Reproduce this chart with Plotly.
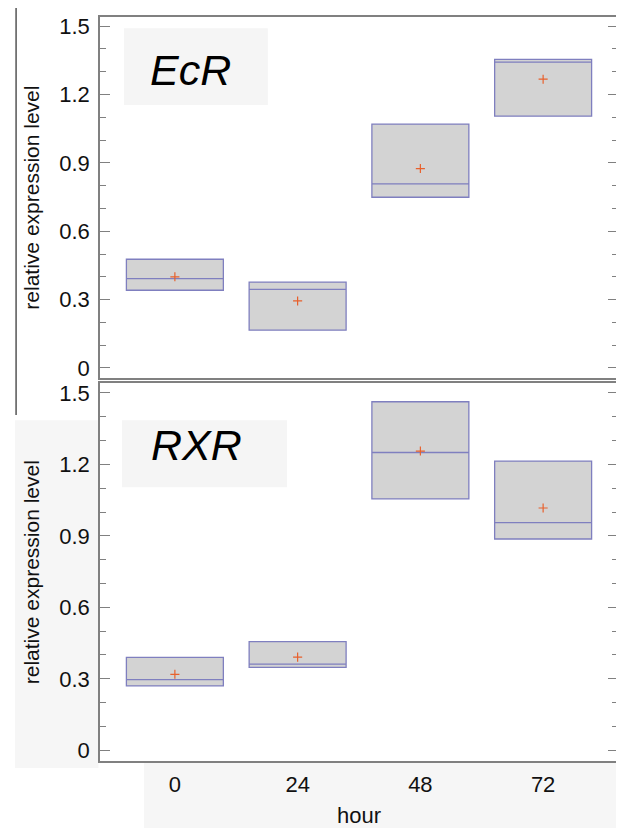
import plotly.graph_objects as go

hours = ["0", "24", "48", "72"]

ecr_q1 = [0.341, 0.166, 0.749, 1.105]
ecr_median = [0.392, 0.345, 0.808, 1.342]
ecr_q3 = [0.477, 0.377, 1.070, 1.354]
ecr_mean = [0.400, 0.294, 0.875, 1.267]

rxr_q1 = [0.270, 0.348, 1.055, 0.887]
rxr_median = [0.297, 0.362, 1.250, 0.956]
rxr_q3 = [0.390, 0.456, 1.463, 1.214]
rxr_mean = [0.319, 0.391, 1.256, 1.017]

y_ticks = [0, 0.3, 0.6, 0.9, 1.2, 1.5]
y_tick_labels = ["0", "0.3", "0.6", "0.9", "1.2", "1.5"]

FONT = "Liberation Sans, Arial, sans-serif"
BOX_LINE = "#7f7fbf"
BOX_FILL = "#d3d3d3"
MEAN_COL = "#e8602c"
AXIS_COL = "#808080"
TXT = "#111111"
SCAN_BG = "#f6f6f6"

fig = go.Figure()
pos = list(range(len(hours)))

def add_panel(q1, med, q3, mean, xa, ya):
    fig.add_trace(go.Box(
        x=pos, q1=q1, median=med, q3=q3, lowerfence=q1, upperfence=q3,
        width=0.79, whiskerwidth=0, fillcolor=BOX_FILL,
        line=dict(color=BOX_LINE, width=1.3), boxpoints=False,
        xaxis=xa, yaxis=ya, showlegend=False, hoverinfo="skip"))
    fig.add_trace(go.Scatter(
        x=pos, y=mean, mode="markers",
        marker=dict(symbol="cross-thin", size=6.5, line=dict(color=MEAN_COL, width=1.2)),
        xaxis=xa, yaxis=ya, showlegend=False, hoverinfo="skip"))

add_panel(ecr_q1, ecr_median, ecr_q3, ecr_mean, "x", "y")
add_panel(rxr_q1, rxr_median, rxr_q3, rxr_mean, "x2", "y2")

yaxis_common = dict(
    range=[-0.045, 1.54], tickvals=y_ticks, ticktext=y_tick_labels,
    ticks="inside", ticklen=10, tickwidth=1.2, tickcolor=AXIS_COL,
    minor=dict(dtick=0.1, ticks="inside", ticklen=6, tickwidth=1.2, tickcolor=AXIS_COL),
    showline=True, linecolor=AXIS_COL, linewidth=1.5, mirror="allticks",
    showgrid=False, zeroline=False, ticklabelstandoff=4, automargin=False,
    tickfont=dict(family=FONT, size=22, color=TXT),
    title=dict(text="relative expression level", font=dict(family=FONT, size=21, color=TXT), standoff=14),
)
xaxis_common = dict(
    range=[-0.61, 3.61], tickvals=pos, ticktext=hours, ticks="",
    showline=True, linecolor=AXIS_COL, linewidth=1.5, mirror=True,
    showgrid=False, zeroline=False, automargin=False,
    tickfont=dict(family=FONT, size=22, color=TXT),
)

# page body adds an 8px offset; figure sized so the plot area lands at x 100-618, y 17-761
fig.update_layout(
    width=616, height=820,
    margin=dict(l=92, r=6, t=9, b=67),
    paper_bgcolor="white", plot_bgcolor="white",
    xaxis=dict(xaxis_common, domain=[0, 1], anchor="y", showticklabels=False),
    yaxis=dict(yaxis_common, domain=[0.5145, 1.0], anchor="x"),
    xaxis2=dict(xaxis_common, domain=[0, 1], anchor="y2", ticklabelstandoff=3,
                title=dict(text="hour", font=dict(family=FONT, size=22, color=TXT), standoff=14)),
    yaxis2=dict(yaxis_common, domain=[0.0, 0.5075], anchor="x2"),
)

# faint scanned background areas
fig.add_shape(type="rect", xref="paper", yref="paper", x0=-0.164, x1=-0.003, y0=-0.0094, y1=0.458,
              fillcolor=SCAN_BG, line=dict(width=0), layer="below")
fig.add_shape(type="rect", xref="paper", yref="paper", x0=0.085, x1=1.012, y0=-0.095, y1=-0.002,
              fillcolor=SCAN_BG, line=dict(width=0), layer="below")

# gene label panels
fig.add_shape(type="rect", xref="paper", yref="paper", x0=0.0463, x1=0.324, y0=0.8817, y1=0.985,
              fillcolor="#f5f5f5", line=dict(width=0), layer="below")
fig.add_shape(type="rect", xref="paper", yref="paper", x0=0.0425, x1=0.361, y0=0.3679, y1=0.4580,
              fillcolor="#f5f5f5", line=dict(width=0), layer="below")
fig.add_annotation(text="<i>EcR</i>", xref="paper", yref="paper", x=0.174, y=0.929,
                   xanchor="center", yanchor="middle",
                   showarrow=False, font=dict(family=FONT, size=43, color="black"))
fig.add_annotation(text="<i>RXR</i>", xref="paper", yref="paper", x=0.187, y=0.425,
                   xanchor="center", yanchor="middle",
                   showarrow=False, font=dict(family=FONT, size=43, color="black"))

# scan edge line at left
fig.add_shape(type="line", xref="paper", yref="paper", x0=-0.162, x1=-0.162, y0=0.465, y1=1.016,
              line=dict(color="#555", width=1.5))

fig.write_html("out.html")
